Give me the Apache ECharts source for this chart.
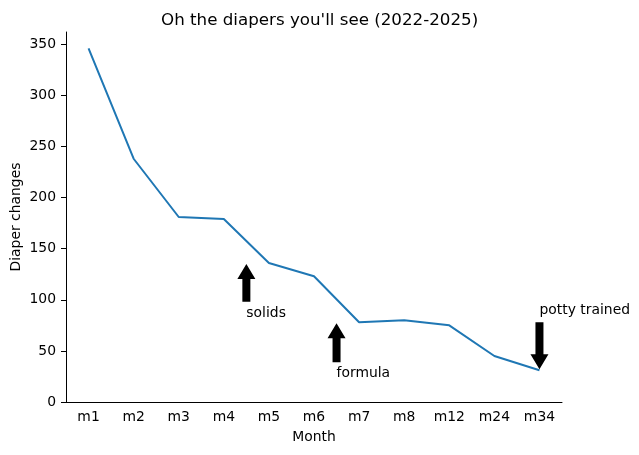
<!DOCTYPE html>
<html>
<head>
<meta charset="utf-8">
<script src="https://cdn.jsdelivr.net/npm/echarts@6/dist/echarts.min.js"></script>
<style>
  html, body { margin: 0; padding: 0; background: #fff; }
  #chart { width: 639px; height: 455px; }
</style>
</head>
<body>
<div id="chart"></div>
<script>
// months since birth
const months = ['m1', 'm2', 'm3', 'm4', 'm5', 'm6', 'm7', 'm8', 'm12', 'm24', 'm34'];
// diaper changes per month
const changes = [346, 238, 181, 179, 136, 123, 78, 80, 75, 45, 31];
const yTicks = [0, 50, 100, 150, 200, 250, 300, 350];

// annotations: x position (0-based category index), arrow tail, arrow tip, label y
const noteX = [3.5, 5.5, 10];
const noteTail = [98, 39, 78];
const noteTip = [135, 77, 32];
const noteTextY = [80, 21, 83];
const noteLabels = ['solids', 'formula', 'potty trained'];

const font = 'DejaVu Sans';
const chart = echarts.init(document.getElementById('chart'));

const notes = noteX.map((x, i) => [x, noteTail[i], noteTip[i], noteTextY[i], noteLabels[i]]);

function coordAt(api, x, y) {
  // fractional category position -> pixel, via neighbouring category names
  const lo = Math.floor(x);
  const hi = Math.min(lo + 1, months.length - 1);
  const a = api.coord([months[lo], y]);
  const b = api.coord([months[hi], y]);
  const f = x - lo;
  return [a[0] + (b[0] - a[0]) * f, a[1]];
}

chart.setOption({
  animation: false,
  title: {
    text: "Oh the diapers you'll see (2022-2025)",
    left: 156,
    top: 7,
    textStyle: { fontFamily: font, fontSize: 16.7, fontWeight: 'normal', color: '#000' },
  },
  grid: { left: 66, right: 77, top: 32, bottom: 53, outerBoundsMode: 'none', containLabel: false },
  xAxis: {
    type: 'category',
    data: months,
    boundaryGap: true,
    name: 'Month',
    nameLocation: 'middle',
    nameGap: 28,
    nameMoveOverlap: false,
    nameTextStyle: { fontFamily: font, fontSize: 13.9, color: '#000' },
    axisLine: { lineStyle: { color: '#000', width: 1 } },
    axisTick: { alignWithLabel: true, length: 5, lineStyle: { color: '#000' } },
    axisLabel: { fontFamily: font, fontSize: 13.9, color: '#000', margin: 8 },
    splitLine: { show: false },
  },
  yAxis: {
    type: 'value',
    min: 0,
    max: 362,
    name: 'Diaper changes',
    nameLocation: 'middle',
    nameGap: 43,
    nameMoveOverlap: false,
    nameTextStyle: { fontFamily: font, fontSize: 13.9, color: '#000' },
    axisLine: { show: true, lineStyle: { color: '#000', width: 1 } },
    axisTick: { show: true, length: 5, customValues: yTicks, lineStyle: { color: '#000' } },
    axisLabel: { fontFamily: font, fontSize: 13.9, color: '#000', margin: 10, customValues: yTicks },
    splitLine: { show: false },
  },
  series: [
    {
      type: 'line',
      data: changes,
      symbol: 'none',
      lineStyle: { color: '#1f77b4', width: 2 },
    },
    {
      type: 'custom',
      data: notes,
      z: 5,
      renderItem(params, api) {
        const d = notes[params.dataIndex];
        const tail = coordAt(api, d[0], d[1]);
        const tip = coordAt(api, d[0], d[2]);
        const txt = coordAt(api, d[0], d[3]);
        const x = tail[0];
        const dir = tip[1] < tail[1] ? -1 : 1; // -1 points up
        const headLen = 15, headW = 9, shaftW = 4;
        const base = tip[1] - dir * headLen;
        const pts = [
          [x - shaftW, tail[1]],
          [x - shaftW, base],
          [x - headW, base],
          [x, tip[1]],
          [x + headW, base],
          [x + shaftW, base],
          [x + shaftW, tail[1]],
        ];
        return {
          type: 'group',
          children: [
            { type: 'polygon', shape: { points: pts }, style: { fill: '#000' } },
            {
              type: 'text',
              x: x,
              y: txt[1],
              style: {
                text: d[4],
                fontFamily: font,
                fontSize: 13.9,
                fill: '#000',
                textAlign: 'left',
                textVerticalAlign: 'bottom',
              },
            },
          ],
        };
      },
    },
  ],
});
</script>
</body>
</html>
